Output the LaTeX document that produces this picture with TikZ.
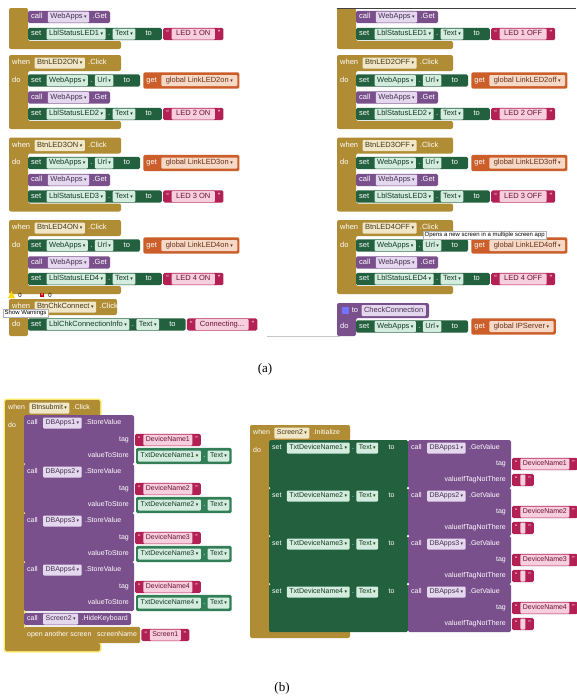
\documentclass[tikz,border=0pt]{standalone}
\usepackage{fontspec}
\setmainfont{Liberation Sans}
\newfontfamily\capfont{Liberation Serif}
\newfontfamily\ddfont{DejaVu Sans}
\usetikzlibrary{positioning,fit,backgrounds}
\definecolor{evtgold}{RGB}{176,140,52}
\definecolor{setgreen}{RGB}{34,96,62}
\definecolor{getgreen}{RGB}{50,126,86}
\definecolor{callpurple}{RGB}{122,80,140}
\definecolor{strred}{RGB}{178,32,84}
\definecolor{varorange}{RGB}{204,94,42}
\definecolor{fldmint}{RGB}{212,236,222}
\definecolor{fldlilac}{RGB}{228,216,238}
\definecolor{fldpeach}{RGB}{246,216,198}
\definecolor{fldpink}{RGB}{246,206,222}
\definecolor{fldcream}{RGB}{240,230,200}
\definecolor{glow}{RGB}{250,234,110}

\newcommand{\dd}{\hspace{1.5pt}{\ddfont\fontsize{5}{5}\selectfont ▾}}
\newcommand{\bfs}{7.5}

\tikzset{
  blocktext/.style={font=\fontsize{\bfs}{9}\selectfont,text height=5.2pt,text depth=1.5pt,inner ysep=0pt},
  kw/.style={blocktext,text=white,inner xsep=1pt},
  fldbase/.style={blocktext,rounded corners=1pt,inner xsep=2.5pt,minimum height=11pt},
  fld/.style={fldbase,fill=fldmint,text=setgreen!60!black},
  cfld/.style={fldbase,fill=fldlilac,text=callpurple!60!black},
  gfld/.style={fldbase,fill=fldpeach,text=varorange!50!black,inner xsep=4.5pt},
  sfld/.style={fldbase,fill=fldpink,text=strred!60!black,inner xsep=4.5pt},
  efld/.style={fldbase,fill=fldcream,text=evtgold!40!black},
  blk/.style={rounded corners=1.5pt,inner xsep=2pt,inner ysep=2.5pt},
  tip/.style={draw=gray!60,fill=white,text=black,font=\fontsize{6}{7}\selectfont,inner xsep=1.5pt,inner ysep=1.5pt},
  caption/.style={font=\capfont\fontsize{13}{15}\selectfont},
}

% C-shaped outline of an event block: x, header centre, head width, bottom
\newcommand{\evtpath}[4]{(#1,#2-8) -- (#1+#3,#2-8) -- (#1+#3,#2+8) -- (#1+19,#2+8) -- (#1+19,#4-8) -- (#1+#3,#4-8) -- (#1+#3,#4) -- (#1,#4) -- cycle}

% name, x, header centre, head width, bottom, component, event
\newcommand{\evtblk}[7]{%
  \begin{scope}[on background layer]
    \fill[evtgold,rounded corners=2pt] \evtpath{#2}{#3}{#4}{#5};
  \end{scope}
  \node[kw,anchor=west] (#1-when) at (#2+2,#3) {when};
  \node[efld,right=3pt of #1-when] (#1-comp) {#6\dd};
  \node[kw,right=2pt of #1-comp] (#1-ev) {.#7};
  \node[kw,anchor=west] (#1-do) at (#2+2,#3+17.5) {do};
}

% name, x, y, component, property
\newcommand{\setrow}[5]{%
  \node[kw,anchor=west] (#1-set) at (#2+2,#3) {set};
  \node[fld,right=4pt of #1-set] (#1-comp) {#4\dd};
  \node[kw,inner xsep=2pt,right=0pt of #1-comp] (#1-dot) {.};
  \node[fld,right=0pt of #1-dot] (#1-prop) {#5\dd};
  \node[kw,minimum width=22pt,right=2pt of #1-prop] (#1-to) {to};
  \begin{scope}[on background layer]
    \node[blk,fill=setgreen,fit=(#1-set)(#1-to)] (#1) {};
  \end{scope}
}

% name, x, y, component, method
\newcommand{\callrow}[5]{%
  \node[kw,anchor=west] (#1-call) at (#2+2,#3) {call};
  \node[cfld,right=4pt of #1-call] (#1-comp) {#4\dd};
  \node[kw,right=2pt of #1-comp] (#1-meth) {#5};
  \begin{scope}[on background layer]
    \node[blk,fill=callpurple,fit=(#1-call)(#1-meth)] (#1) {};
  \end{scope}
}

% name, left point, variable
\newcommand{\getval}[3]{%
  \node[kw,anchor=west,xshift=5pt] (#1-get) at #2 {get};
  \node[gfld,right=3pt of #1-get] (#1-var) {global #3\dd};
  \begin{scope}[on background layer]
    \node[blk,fill=varorange,fit=(#1-get)(#1-var)] (#1) {};
  \end{scope}
}

% name, left point, text
\newcommand{\strblk}[3]{%
  \node[kw,anchor=west,xshift=3pt] (#1-lq) at #2 {“};
  \node[sfld,right=1.5pt of #1-lq] (#1-txt) {#3};
  \node[kw,right=1.5pt of #1-txt] (#1-rq) {”};
  \begin{scope}[on background layer]
    \node[blk,fill=strred,fit=(#1-lq)(#1-rq)] (#1) {};
  \end{scope}
}

% name, left point, component
\newcommand{\txtget}[3]{%
  \node[fld,anchor=west,xshift=4pt] (#1-comp) at #2 {#3\dd};
  \node[kw,inner xsep=2pt,right=0pt of #1-comp] (#1-dot) {.};
  \node[fld,right=0pt of #1-dot] (#1-prop) {Text\dd};
  \begin{scope}[on background layer]
    \node[blk,fill=getgreen,fit=(#1-comp)(#1-prop)] (#1) {};
  \end{scope}
}

% name, x, header centre, button, url variable, label, text, head width
\newcommand{\ledblock}[8]{%
  \evtblk{#1}{#2}{#3}{#8}{#3+66}{#4}{Click}
  \setrow{#1u}{#2+19}{#3+17.5}{WebApps}{Url}
  \getval{#1g}{(#1u.east)}{#5}
  \callrow{#1c}{#2+19}{#3+34.5}{WebApps}{.Get}
  \setrow{#1t}{#2+19}{#3+51}{#6}{Text}
  \strblk{#1s}{(#1t.east)}{#7}
}

% name, x, y, number
\newcommand{\storeblk}[4]{%
  \begin{scope}[on background layer]
    \fill[callpurple,rounded corners=1.5pt] (#2,#3-8) rectangle (#2+110,#3+41);
  \end{scope}
  \node[kw,anchor=west] (#1-call) at (#2+2,#3) {call};
  \node[cfld,right=4pt of #1-call] (#1-comp) {DBApps#4\dd};
  \node[kw,right=2pt of #1-comp] (#1-meth) {.StoreValue};
  \node[kw,anchor=east] (#1-tag) at (#2+106,#3+17) {tag};
  \node[kw,anchor=east] (#1-val) at (#2+106,#3+33) {valueToStore};
  \strblk{#1s}{(#2+110,#3+17)}{DeviceName#4}
  \txtget{#1v}{(#2+110,#3+33)}{TxtDeviceName#4}
}

% name, x, y, number
\newcommand{\setget}[4]{%
  \begin{scope}[on background layer]
    \fill[setgreen,rounded corners=1.5pt] (#2,#3-8) rectangle (#2+139,#3+40);
  \end{scope}
  \setrow{#1u}{#2}{#3}{TxtDeviceName#4}{Text}
  \begin{scope}[on background layer]
    \fill[callpurple,rounded corners=1.5pt] (#2+139,#3-8) rectangle (#2+242,#3+40);
  \end{scope}
  \node[kw,anchor=west] (#1-call) at (#2+141,#3) {call};
  \node[cfld,right=4pt of #1-call] (#1-comp) {DBApps#4\dd};
  \node[kw,right=2pt of #1-comp] (#1-meth) {.GetValue};
  \node[kw,anchor=east] (#1-tag) at (#2+238,#3+16) {tag};
  \node[kw,anchor=east] (#1-vit) at (#2+238,#3+32) {valueIfTagNotThere};
  \strblk{#1s}{(#2+242,#3+16)}{DeviceName#4}
  \strblk{#1e}{(#2+242,#3+32)}{\hspace*{0pt}}
}

\begin{document}
\begin{tikzpicture}[x=1pt,y=-1pt]
  \useasboundingbox (0,0) rectangle (576,699);
  \begin{scope}[on background layer]
    \fill[white] (0,0) rectangle (576,699);
  \end{scope}

  % (a) left column, first block cut at the top
  \begin{scope}[on background layer]
    \fill[evtgold,rounded corners=2pt] (9,8) -- (28,8) -- (28,41) -- (121,41) -- (121,49) -- (9,49) -- cycle;
  \end{scope}
  \callrow{Lac}{28}{17}{WebApps}{.Get}
  \setrow{Lat}{28}{34}{LblStatusLED1}{Text}
  \strblk{Las}{(Lat.east)}{LED 1 ON}
  \ledblock{Lb}{9}{63}{BtnLED2ON}{LinkLED2on}{LblStatusLED2}{LED 2 ON}{112}
  \ledblock{Lc}{9}{145.5}{BtnLED3ON}{LinkLED3on}{LblStatusLED3}{LED 3 ON}{112}
  \ledblock{Ld}{9}{228}{BtnLED4ON}{LinkLED4on}{LblStatusLED4}{LED 4 ON}{112}
  \begin{scope}[on background layer]
    \fill[evtgold,rounded corners=2pt] (9,299) -- (117,299) -- (117,315) -- (28,315) -- (28,336) -- (9,336) -- cycle;
  \end{scope}
  \node[kw,anchor=west] (Le-when) at (11,307) {when};
  \node[efld,right=3pt of Le-when] (Le-comp) {BtnChkConnect\dd};
  \node[kw,right=2pt of Le-comp] (Le-ev) {.Click};
  \node[kw,anchor=west] (Le-do) at (11,324.5) {do};
  \setrow{Let}{28}{324.5}{LblChkConnectionInfo}{Text}
  \strblk{Les}{(Let.east)}{Connecting...}

  % (a) right column
  \begin{scope}[on background layer]
    \fill[evtgold,rounded corners=2pt] (337,8) -- (356,8) -- (356,41) -- (453,41) -- (453,49) -- (337,49) -- cycle;
  \end{scope}
  \callrow{Rac}{356}{17}{WebApps}{.Get}
  \setrow{Rat}{356}{34}{LblStatusLED1}{Text}
  \strblk{Ras}{(Rat.east)}{LED 1 OFF}
  \ledblock{Rb}{337}{63}{BtnLED2OFF}{LinkLED2off}{LblStatusLED2}{LED 2 OFF}{116}
  \ledblock{Rc}{337}{145.5}{BtnLED3OFF}{LinkLED3off}{LblStatusLED3}{LED 3 OFF}{116}
  \ledblock{Rd}{337}{228}{BtnLED4OFF}{LinkLED4off}{LblStatusLED4}{LED 4 OFF}{116}
  \begin{scope}[on background layer]
    \fill[callpurple,rounded corners=2pt] (337,303) -- (429,303) -- (429,318) -- (356,318) -- (356,336) -- (337,336) -- cycle;
  \end{scope}
  \node[fill=blue!55!white,minimum size=7pt,inner sep=0pt] (Re-gear) at (345,310.5) {};
  \node[kw,right=2pt of Re-gear] (Re-to) {to};
  \node[cfld,right=2pt of Re-to] (Re-name) {CheckConnection};
  \node[kw,anchor=west] (Re-do) at (339,326.5) {do};
  \setrow{Reu}{356}{326.5}{WebApps}{Url}
  \getval{Reg}{(Reu.east)}{IPServer}

  % cut edges of the screenshot
  \draw[black!75,line width=0.8pt] (337,8) -- (576,8);
  \draw[gray!45] (267,336) -- (340,336);

  % tooltips and warning counters
  \node[tip,anchor=west] (Rd-tip) at (423,235) {Opens a new screen in a multiple screen app};
  \fill[yellow!75!orange] (8,298) -- (15,298) -- (11.5,291) -- cycle;
  \node[text=black,font=\fontsize{6}{7}\selectfont] (warn-n) at (20,295) {0};
  \node[fill=red!75!black,text=white,font=\fontsize{5}{5}\selectfont,inner sep=0.8pt] (err-box) at (42,295) {×};
  \node[text=black,font=\fontsize{6}{7}\selectfont,right=0.5pt of err-box] (err-n) {0};
  \node[tip,anchor=west] (Le-tip) at (3,313) {Show Warnings};

  \node[caption] (capa) at (265,369) {(a)};

  % (b) left: Btnsubmit
  \renewcommand{\bfs}{7}
  \tikzset{sfld/.append style={inner xsep=2.5pt}}
  \begin{scope}[on background layer]
    \draw[glow,line width=3pt,rounded corners=2pt] \evtpath{5}{408}{95}{651};
  \end{scope}
  \evtblk{Sb}{5}{408}{95}{651}{Btnsubmit}{Click}
  \storeblk{Sa1}{24}{423}{1}
  \storeblk{Sa2}{24}{472}{2}
  \storeblk{Sa3}{24}{521}{3}
  \storeblk{Sa4}{24}{570}{4}
  \callrow{Shk}{24}{619}{Screen2}{.HideKeyboard}
  \node[kw,anchor=west,minimum height=11pt] (Sos-lbl) at (26,635) {open another screen\ \ \ screenName\ };
  \begin{scope}[on background layer]
    \node[blk,fill=evtgold,fit=(Sos-lbl)] (Sos) {};
  \end{scope}
  \strblk{Soss}{(Sos.east)}{Screen1}

  % (b) right: Screen2.Initialize
  \evtblk{In}{250}{433}{100}{638}{Screen2}{Initialize}
  \setget{Ig1}{269}{448}{1}
  \setget{Ig2}{269}{496}{2}
  \setget{Ig3}{269}{544}{3}
  \setget{Ig4}{269}{592}{4}

  \node[caption] (capb) at (282,688) {(b)};
\end{tikzpicture}
\end{document}
